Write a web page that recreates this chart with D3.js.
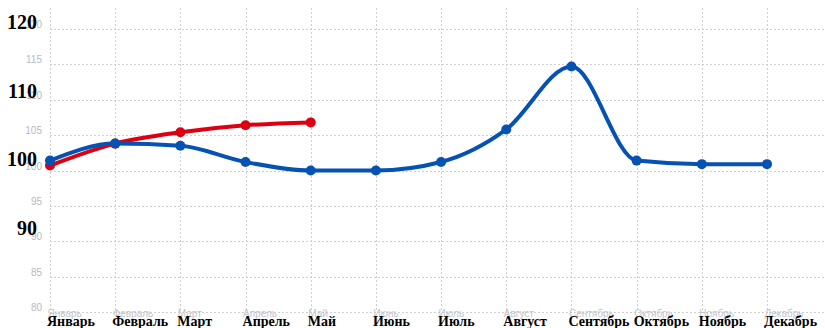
<!DOCTYPE html>
<html>
<head>
<meta charset="utf-8">
<script src="https://cdn.jsdelivr.net/npm/d3@7"></script>
<style>
  html, body { margin: 0; padding: 0; background: #fff; }
  svg { display: block; }
</style>
</head>
<body>
<svg id="chart" width="825" height="328"></svg>
<script>
// Months along the x axis
const months = ["Январь", "Февраль", "Март", "Апрель", "Май", "Июнь",
                "Июль", "Август", "Сентябрь", "Октябрь", "Ноябрь", "Декабрь"];

// Index values per month
const seriesBlue = [101.4, 103.8, 103.5, 101.2, 100.0, 100.0, 101.2, 105.8, 114.7, 101.4, 100.9, 100.9];
const seriesRed  = [100.7, 103.8, 105.4, 106.4, 106.8];

// Axis ticks: fine grid ticks and the large bold labels
const gridTicks = [80, 85, 90, 95, 100, 105, 110, 115, 120];
const boldTicks = [90, 100, 110, 120];

const svg = d3.select("#chart");
const W = 825;

const x = d3.scalePoint().domain(months).range([50, 767]);
const y = d3.scaleLinear().domain([80, 120]).range([312, 29]);
// bold labels sit on a slightly tighter scale of their own
const yBold = d3.scaleLinear().domain([90, 120]).range([235, 29]);

const gridColor = "#cfcfcf";
const grid = svg.append("g");

// horizontal dotted grid
grid.selectAll("line.h").data(gridTicks).join("line")
  .attr("class", "h")
  .attr("x1", 50).attr("x2", W)
  .attr("y1", d => Math.round(y(d)) + 0.5).attr("y2", d => Math.round(y(d)) + 0.5)
  .attr("stroke", gridColor).attr("stroke-width", 1).attr("stroke-dasharray", "2,2");

// vertical dotted grid
grid.selectAll("line.v").data(months).join("line")
  .attr("class", "v")
  .attr("x1", d => Math.round(x(d)) + 0.5).attr("x2", d => Math.round(x(d)) + 0.5)
  .attr("y1", 8).attr("y2", 312)
  .attr("stroke", gridColor).attr("stroke-width", 1).attr("stroke-dasharray", "2,2");

// small grey y tick labels
const yAxis = d3.axisLeft(y).tickValues(gridTicks).tickSize(0).tickPadding(0);
const gy = svg.append("g").attr("transform", "translate(42,0)").call(yAxis);
gy.select(".domain").remove();
gy.selectAll("text")
  .attr("dy", "-0.15em")
  .attr("font-family", "Liberation Sans, Arial, sans-serif")
  .attr("font-size", 10)
  .attr("fill", "#b8b8c4");

// small grey x tick labels, left-aligned just before each grid line
const xAxis = d3.axisBottom(x).tickSize(0).tickPadding(0);
const gx = svg.append("g").attr("transform", "translate(0,309)").call(xAxis);
gx.select(".domain").remove();
gx.selectAll("text")
  .attr("text-anchor", "start")
  .attr("x", -3)
  .attr("dy", "0.8em")
  .attr("font-family", "Liberation Sans, Arial, sans-serif")
  .attr("font-size", 10)
  .attr("fill", "#c4c4cc");

// bold y labels
svg.append("g").selectAll("text").data(boldTicks).join("text")
  .attr("x", 37)
  .attr("y", d => yBold(d))
  .attr("text-anchor", "end")
  .attr("font-family", "Liberation Serif, 'Times New Roman', serif")
  .attr("font-weight", "bold")
  .attr("font-size", 20)
  .attr("fill", "#000")
  .text(d => d);

// bold x labels
svg.append("g").selectAll("text").data(months).join("text")
  .attr("x", d => x(d) - 3)
  .attr("y", 326)
  .attr("text-anchor", "start")
  .attr("font-family", "Liberation Serif, 'Times New Roman', serif")
  .attr("font-weight", "bold")
  .attr("font-size", 14)
  .attr("fill", "#000")
  .text(d => d);

const line = d3.line()
  .x((d, i) => x(months[i]))
  .y(d => y(d))
  .curve(d3.curveMonotoneX);

function drawSeries(values, color) {
  const g = svg.append("g");
  g.append("path")
    .datum(values)
    .attr("d", line)
    .attr("fill", "none")
    .attr("stroke", color)
    .attr("stroke-width", 4)
    .attr("stroke-linecap", "round")
    .attr("stroke-linejoin", "round");
  g.selectAll("circle").data(values).join("circle")
    .attr("cx", (d, i) => x(months[i]))
    .attr("cy", d => y(d))
    .attr("r", 5)
    .attr("fill", color);
}

drawSeries(seriesRed, "#dc0012");
drawSeries(seriesBlue, "#0652b3");
</script>
</body>
</html>
